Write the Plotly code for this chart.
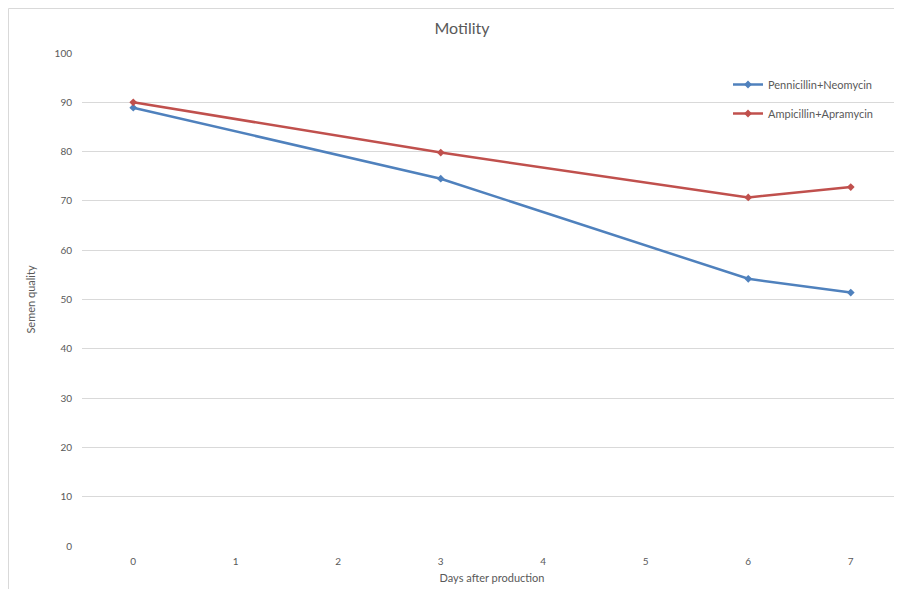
import plotly.graph_objects as go

days = [0, 3, 6, 7]
pen_neo = [88.9, 74.5, 54.2, 51.4]
amp_apr = [90.0, 79.8, 70.7, 72.8]
x_ticks = [0, 1, 2, 3, 4, 5, 6, 7]
y_ticks = [0, 10, 20, 30, 40, 50, 60, 70, 80, 90, 100]

FONT = "Lato, Open Sans, sans-serif"
TXT = "#595959"

fig = go.Figure()
fig.add_trace(go.Scatter(
    x=days, y=pen_neo, mode="lines+markers", name="Pennicillin+Neomycin",
    line=dict(color="#4F81BD", width=2.5),
    marker=dict(symbol="diamond", size=6, color="#4F81BD"),
    legendgroup="a",
))
fig.add_trace(go.Scatter(
    x=days, y=amp_apr, mode="lines+markers", name="Ampicillin+Apramycin",
    line=dict(color="#C0504D", width=2.5),
    marker=dict(symbol="diamond", size=6, color="#C0504D"),
    legendgroup="b",
))

# page has an 8px body margin; reference pixel p maps to figure pixel p - OFF
OFF = 8
W, H = 902 - OFF, 597 - 2 * OFF
ml, mr, mt = 82 - OFF, 0, 53 - OFF
mb = H - (546 - OFF)
pw = W - ml - mr
ph = H - mt - mb

def px_x(p):
    return (p - OFF - ml) / pw

def px_y(p):
    return (H - mb - (p - OFF)) / ph

fig.update_layout(
    width=W, height=H,
    margin=dict(l=ml, r=mr, t=mt, b=mb),
    paper_bgcolor="white", plot_bgcolor="white",
    font=dict(family=FONT, color=TXT, size=11),
    title=dict(text="Motility", x=(462 - OFF) / W, xanchor="center",
               y=1 - (28 - OFF) / H, yanchor="middle",
               font=dict(size=16, color=TXT, family=FONT)),
    xaxis=dict(range=[-0.5, 7.5], tickvals=x_ticks, ticktext=[str(v) for v in x_ticks],
               showgrid=False, zeroline=False, showline=False,
               ticks="", ticklabelstandoff=8, tickfont=dict(size=10, color=TXT),
               title=dict(text="Days after production", standoff=8,
                          font=dict(size=11, color=TXT))),
    yaxis=dict(range=[0, 100], tickvals=y_ticks, showgrid=True,
               gridcolor="#D9D9D9", gridwidth=1, zeroline=False,
               showline=False, ticks="", ticklabelstandoff=9,
               tickfont=dict(size=10, color=TXT),
               title=dict(text="Semen quality", standoff=16,
                          font=dict(size=11, color=TXT))),
    legend=dict(x=px_x(728), y=px_y(70), xanchor="left", yanchor="top",
                bgcolor="rgba(0,0,0,0)", tracegroupgap=10,
                font=dict(size=11, color=TXT), itemwidth=30),
    shapes=[
        dict(type="line", xref="paper", yref="paper",
             x0=px_x(8.5), x1=px_x(8.5), y0=px_y(589), y1=px_y(8.5),
             line=dict(color="#D9D9D9", width=1)),
        dict(type="line", xref="paper", yref="paper",
             x0=px_x(8.5), x1=px_x(902), y0=px_y(8.5), y1=px_y(8.5),
             line=dict(color="#D9D9D9", width=1)),
    ],
)

fig.write_html("out.html")
